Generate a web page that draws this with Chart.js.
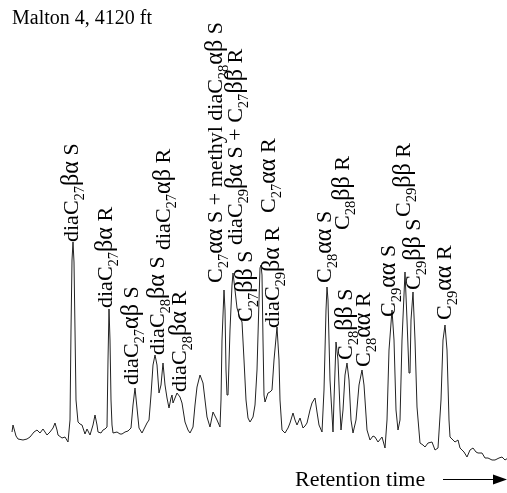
<!DOCTYPE html>
<html><head><meta charset="utf-8">
<script src="https://cdn.jsdelivr.net/npm/chart.js@4/dist/chart.umd.min.js"></script>
<style>html,body{margin:0;padding:0;background:#fff;}canvas{display:block;}</style>
</head><body>
<canvas id="c" width="507" height="493"></canvas>
<script>
// Retention time (arbitrary units) and detector response (relative intensity)
const retentionTime = [12,13,16,18,23,27,30,34,37,40,43,45,47,50,53,55,57,58,62,65,68,70,71,72,73,74,75,76,78,80,82,85,87,90,93,95,97,98,101,103,105,107,108,109,110,111,112,113,117,120,122,125,128,131,133,135,137,139,142,144,147,149,151,153,155,157,159,161,163,165,167,169,171,172,173,175,177,180,182,185,188,190,193,195,197,200,203,205,207,210,213,215,217,220,221,222,224,225,226,227,228,230,232,233,235,237,240,242,244,246,248,250,253,255,257,259,260,261,262,263,264,265,268,270,272,274,277,279,280,282,285,288,290,293,295,297,300,303,305,307,310,312,315,317,319,322,324,326,327,328,330,333,334,336,338,340,341,343,345,347,349,351,353,356,359,362,364,366,367,370,373,375,378,382,385,387,389,392,394,396,398,400,402,405,407,409,410,411,413,415,417,420,423,425,428,432,435,438,441,443,445,447,449,450,453,455,458,460,464,467,470,473,476,478,482,485,488,492,495,499,502,505,508];
const intensity = [38,45,34,31,30,31,33,38,40,37,41,38,35,38,42,47,40,35,32,33,28,50,140,210,228,208,140,70,48,46,45,36,41,35,45,55,45,38,37,40,41,43,110,161,130,70,45,37,38,36,36,38,39,42,65,82,62,42,37,41,47,50,75,105,115,105,77,85,107,85,72,62,72,75,67,72,77,73,67,48,40,37,43,65,83,95,87,70,53,43,58,54,50,43,70,130,180,160,100,75,75,140,185,197,180,162,152,148,110,70,52,48,53,65,100,170,202,205,195,130,75,68,77,78,80,110,143,110,70,40,37,42,47,57,50,45,52,42,44,47,60,67,72,58,45,38,80,160,183,170,90,38,70,128,110,60,40,60,95,107,90,50,37,50,85,100,85,55,40,30,34,33,28,33,22,50,120,160,130,60,40,50,130,198,150,97,97,150,178,130,63,27,25,23,27,28,20,22,70,130,145,120,50,33,30,28,30,22,18,13,20,22,18,17,17,12,12,10,10,12,13,10,12];

// Peak labels (subscripts written as _{..}), their retention time and the intensity at the label foot
const peakLabels = ["diaC_{27}βα S","diaC_{27}βα R","diaC_{27}αβ S","diaC_{28}βα S","diaC_{27}αβ R","diaC_{28}βα R","C_{27}αα S + methyl diaC_{28}αβ S","diaC_{29}βα S + C_{27}ββ R","C_{27}ββ S","C_{27}αα R","diaC_{29}βα R","C_{28}αα S","C_{28}ββ R","C_{28}ββ S","C_{28}αα R","C_{29}αα S","C_{29}ββ S","C_{29}ββ R","C_{29}αα R"];
const labelTime = [74,108,134,160,166,182,218,238,248,271,275,327,345,348,366,391,416,406,447];
const labelLevel = [228,162,85,115,220,78,187,225,148,257,142,187,240,110,103,153,180,253,150];

const titleText = "Malton 4, 4120 ft";
const axisText = "Retention time";

const F = 22;
const serif = '"Liberation Serif", "Times New Roman", serif';

function parseLabel(s){
  const segs=[]; const re=/_\{([^}]*)\}/g; let last=0,m;
  const pushMain=(t)=>{ t.split(/([α-ω]+)/).forEach(p=>{ if(p) segs.push({t:p,kind:/^[α-ω]+$/.test(p)?'greek':'main'}); }); };
  while((m=re.exec(s))){ if(m.index>last) pushMain(s.slice(last,m.index)); segs.push({t:m[1],kind:'sub'}); last=re.lastIndex; }
  if(last<s.length) pushMain(s.slice(last));
  return segs;
}

const annot = {
  id:'annot',
  afterDatasetsDraw(chart){
    const ctx=chart.ctx, xs=chart.scales.x, ys=chart.scales.y;
    ctx.save();
    ctx.fillStyle='#000';
    ctx.textBaseline='alphabetic';
    peakLabels.forEach((lab,i)=>{
      const px=xs.getPixelForValue(labelTime[i]) + 0.2*F;
      const py=ys.getPixelForValue(labelLevel[i]);
      ctx.save();
      ctx.translate(px,py);
      ctx.rotate(-Math.PI/2);
      let u=0;
      parseLabel(lab).forEach(sg=>{
        if(sg.kind==='sub'){ ctx.font=(0.66*F)+'px '+serif; ctx.fillText(sg.t,u,0.24*F); }
        else if(sg.kind==='greek'){ ctx.font=(1.1*F)+'px '+serif; ctx.fillText(sg.t,u,0); }
        else { ctx.font=F+'px '+serif; ctx.fillText(sg.t,u,0); }
        u+=ctx.measureText(sg.t).width;
      });
      ctx.restore();
    });
    // title
    ctx.font='20px '+serif;
    ctx.fillText(titleText,12,24);
    // axis caption with arrow
    ctx.font='22px '+serif;
    ctx.fillText(axisText,295,486);
    ctx.strokeStyle='#000'; ctx.lineWidth=1;
    ctx.beginPath(); ctx.moveTo(443,479.5); ctx.lineTo(495,479.5); ctx.stroke();
    ctx.beginPath(); ctx.moveTo(507,479.5); ctx.lineTo(493,474.5); ctx.lineTo(493,484.5); ctx.closePath(); ctx.fill();
    ctx.restore();
  }
};

new Chart(document.getElementById('c'),{
  type:'line',
  data:{datasets:[{data:retentionTime.map((t,i)=>({x:t,y:intensity[i]})),borderColor:'#222',borderWidth:1,pointRadius:0,tension:0,fill:false}]},
  options:{
    responsive:false, animation:false, devicePixelRatio:1,
    layout:{padding:0},
    plugins:{legend:{display:false},tooltip:{enabled:false},title:{display:false}},
    scales:{
      x:{type:'linear',min:0,max:507,display:false},
      y:{min:-23,max:470,display:false}
    }
  },
  plugins:[annot]
});
</script>
</body></html>
